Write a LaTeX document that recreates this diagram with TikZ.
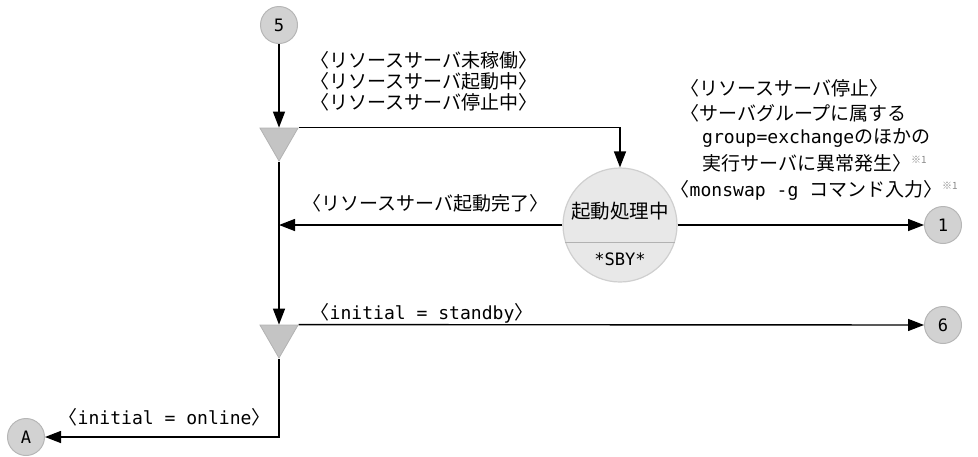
\documentclass[tikz,border=0pt]{standalone}
\usepackage{fontspec}
\setmainfont{Noto Sans CJK JP}
\newfontfamily\monofont[Scale=0.95]{DejaVu Sans Mono}
\newfontfamily\halffont[RawFeature=+halt]{Noto Sans CJK JP}
\usetikzlibrary{arrows.meta,positioning,calc,shapes.geometric}
\definecolor{connfill}{HTML}{D2D2D2}
\definecolor{conndraw}{HTML}{B6B6B6}
\definecolor{statefill}{HTML}{E8E8E8}
\definecolor{statedraw}{HTML}{CFCFCF}
\definecolor{mergefill}{HTML}{C4C4C4}
\definecolor{mergedraw}{HTML}{B2B2B2}
\definecolor{notegray}{HTML}{8A8A8A}
\newcommand{\opnb}{{\halffont 〈}}
\newcommand{\clsb}{{\halffont 〉}}
\newcommand{\kome}{\raisebox{7pt}{\color{notegray}\fontsize{10}{10}\selectfont ※1}}

\begin{document}
\begin{tikzpicture}[
  x=1pt,y=-1pt,>={Triangle[length=16pt,width=12pt]},
  flow/.style={->,line width=1.4pt},
  conn/.style={circle,draw=conndraw,fill=connfill,line width=1pt,minimum size=37pt,
    inner sep=0pt,font=\monofont\fontsize{18}{18}\selectfont},
  merge/.style={regular polygon,regular polygon sides=3,regular polygon rotate=180,
    minimum size=44pt,inner sep=0pt,fill=mergefill,draw=mergedraw,line width=.8pt},
  state/.style={circle,draw=statedraw,fill=statefill,line width=1.2pt,minimum size=114pt,inner sep=0pt},
  divider/.style={draw=mergedraw,line width=1.2pt},
  lbl/.style={anchor=west,inner sep=0pt,font=\fontsize{19}{19}\selectfont}]
\useasboundingbox (0,0) rectangle (978,456);
\node[conn] (c5) at (279,25) {5};
\node[merge] (t1) at (279,139) {};
\node[state] (stat) at (620,225) {};
\node[font=\fontsize{19.5}{19.5}\selectfont] (stup) at (620,211) {起動処理中};
\node[font=\monofont\fontsize{18}{18}\selectfont] (stsby) at (620,259) {*SBY*};
\node[conn] (c1) at (943,225) {1};
\node[merge] (t2) at (279,336) {};
\node[conn] (c6) at (943,325) {6};
\node[conn] (cA) at (26,437) {A};
\coordinate (jup) at (t1 |- stat.west);
% labels
\node[lbl] (lnot) at (310,60) {〈リソースサーバ未稼働〉};
\node[lbl] (lstarting) at (310,81) {〈リソースサーバ起動中〉};
\node[lbl] (lstopping) at (310,102) {〈リソースサーバ停止中〉};
\node[lbl] (ldone) at (302,203) {〈リソースサーバ起動完了〉};
\node[lbl] (rstop) at (680,88) {〈リソースサーバ停止〉};
\node[lbl] (rgroup) at (680,113) {〈サーバグループに属する};
\node[lbl] (rexch) at (702,138) {{\monofont group=exchange}のほかの};
\node[lbl] (rfail) at (702,163) {実行サーバに異常発生〉\kome};
\node[lbl] (rswap) at (680,190) {\opnb{\monofont monswap -g }コマンド入力〉\kome};
\node[lbl] (lstandby) at (320,313) {\opnb{\monofont initial = standby}\clsb};
\node[lbl] (lonline) at (68,417) {\opnb{\monofont initial = online}\clsb};
% connectors
\draw[divider] (stat.198) -- (stat.-18);
\draw[flow] (c5)--(t1.north);
\draw[flow] (t1.corner 2) -| (stat.north);
\draw[flow] (stat.west)--(jup);
\draw[flow] (stat.east)--(c1);
\draw[flow] (t1.south)--(t2.north);
\draw[flow] (t2.corner 2)--(c6);
\draw[flow] (t2.south) |- (cA);
\end{tikzpicture}
\end{document}
